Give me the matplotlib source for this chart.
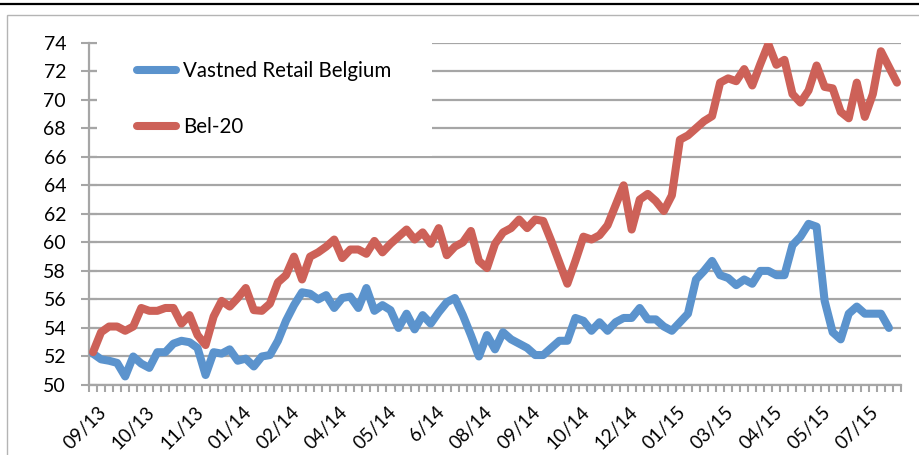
import numpy as np
import matplotlib
matplotlib.use('Agg')
import matplotlib.pyplot as plt
from matplotlib.patches import Rectangle
from matplotlib.lines import Line2D
import matplotlib.transforms as mtransforms

plt.rcParams['font.family'] = ['Lato', 'DejaVu Sans']

# weekly closing values, 09/13 - 08/15
bel20 = [52.3, 53.7, 54.1, 54.1, 53.8, 54.1, 55.4, 55.2, 55.2, 55.4,
         55.4, 54.3, 54.9, 53.5, 52.8, 54.8, 55.9, 55.5, 56.1, 56.8,
         55.25, 55.2, 55.7, 57.2, 57.7, 59.0, 57.4, 59.0, 59.3, 59.7,
         60.2, 58.9, 59.5, 59.5, 59.2, 60.1, 59.3, 59.9, 60.4, 60.9,
         60.2, 60.7, 59.9, 61.0, 59.1, 59.7, 60.0, 60.8, 58.7, 58.2,
         59.9, 60.7, 61.0, 61.6, 61.0, 61.6, 61.5, 60.1, 58.6, 57.1,
         58.7, 60.4, 60.2, 60.5, 61.2, 62.6, 64.0, 60.9, 63.0, 63.4,
         62.9, 62.2, 63.3, 67.2, 67.5, 68.0, 68.5, 68.85, 71.2, 71.5,
         71.3, 72.15, 71.0, 72.5, 73.9, 72.45, 72.8, 70.4, 69.8, 70.65,
         72.4, 70.9, 70.8, 69.15, 68.7, 71.2, 68.8, 70.4, 73.4, 72.3,
         71.2]

vastned = [52.2, 51.8, 51.7, 51.55, 50.6, 52.0, 51.5, 51.2, 52.3, 52.3,
           52.9, 53.1, 53.0, 52.6, 50.7, 52.3, 52.2, 52.5, 51.7, 51.85,
           51.3, 52.0, 52.1, 53.1, 54.5, 55.6, 56.5, 56.4, 56.0, 56.3,
           55.4, 56.1, 56.2, 55.4, 56.8, 55.2, 55.6, 55.25, 54.0, 55.0,
           53.9, 54.9, 54.3, 55.1, 55.8, 56.1, 54.9, 53.5, 52.0, 53.5,
           52.5, 53.7, 53.2, 52.9, 52.6, 52.1, 52.1, 52.6, 53.1, 53.1,
           54.7, 54.5, 53.8, 54.4, 53.8, 54.4, 54.7, 54.7, 55.4, 54.6,
           54.6, 54.1, 53.8, 54.4, 55.0, 57.4, 58.0, 58.7, 57.7, 57.5,
           57.0, 57.4, 57.1, 58.0, 58.0, 57.7, 57.7, 59.8, 60.4, 61.3,
           61.1, 55.9, 53.7, 53.2, 55.0, 55.5, 55.0, 55.0, 55.0, 54.0]

month_labels = ['09/13', '10/13', '11/13', '01/14', '02/14', '04/14', '05/14',
                '6/14', '08/14', '09/14', '10/14', '12/14', '01/15', '03/15',
                '04/15', '05/15', '07/15']
label_step = 6

blue = '#5B93CD'
red = '#CD6158'
grey = '#A6A6A6'

W, H = 920, 455
fig = plt.figure(figsize=(W / 100, H / 100), dpi=100)

# frame lines around the chart
fig.add_artist(Line2D([0, 1], [1 - 3.5 / H] * 2, color='black', lw=1.6))
fig.add_artist(Rectangle((7 / W, -0.1), 1.2, 1.1 - 15 / H, transform=fig.transFigure,
                         fill=False, edgecolor='#B4B4B4', lw=1.0))

ax = fig.add_axes([89 / W, 1 - 385 / H, (901 - 89) / W, (385 - 42.7) / H])

n = len(bel20)
ax.plot(np.arange(len(vastned)), vastned, color=blue, lw=5.8, solid_capstyle='round',
        solid_joinstyle='round', label='Vastned Retail Belgium', zorder=3)
ax.plot(np.arange(n), bel20, color=red, lw=5.8, solid_capstyle='round',
        solid_joinstyle='round', label='Bel-20', zorder=3)

ax.set_xlim(-0.5, n - 0.5)
ax.set_ylim(50, 74)
ax.set_yticks(np.arange(50, 75, 2))
ax.yaxis.grid(True, color=grey, lw=1.6)
ax.set_axisbelow(True)

ax.set_xticks(np.arange(0, n, label_step))
ax.set_xticklabels(month_labels, rotation=45, ha='right', rotation_mode='anchor')
ax.set_xticks(np.arange(-0.5, n, 1), minor=True)
ax.tick_params(axis='x', which='major', length=0, pad=13, labelsize=13.5)
ax.tick_params(axis='x', which='minor', length=5, width=1.5, color=grey, direction='out')
ax.tick_params(axis='y', length=11, width=1.5, color=grey, direction='inout', pad=11,
               labelsize=14)
# nudge the slanted month labels so their ends sit just right of the week
shift = mtransforms.ScaledTranslation(5 / 100, 0, fig.dpi_scale_trans)
for lbl in ax.get_xticklabels():
    lbl.set_transform(lbl.get_transform() + shift)

for s in ['top', 'right']:
    ax.spines[s].set_visible(False)
for s in ['left', 'bottom']:
    ax.spines[s].set_color(grey)
    ax.spines[s].set_linewidth(1.6)

# white legend panel over the gridlines
ax.add_patch(Rectangle((8 / 812, 66.05), (432 - 97) / 812, 9, facecolor='white',
                       edgecolor='none', zorder=2.5,
                       transform=mtransforms.blended_transform_factory(ax.transAxes, ax.transData),
                       clip_on=False))

leg = ax.legend(loc='center left', bbox_to_anchor=(137 / W, 1 - 99.2 / H),
                bbox_transform=fig.transFigure, frameon=False, fontsize=14.8,
                handlelength=1.9, handletextpad=0.35, labelspacing=1.75, borderpad=0,
                borderaxespad=0)
leg.set_zorder(4)

fig.savefig('out.png', dpi=100)
